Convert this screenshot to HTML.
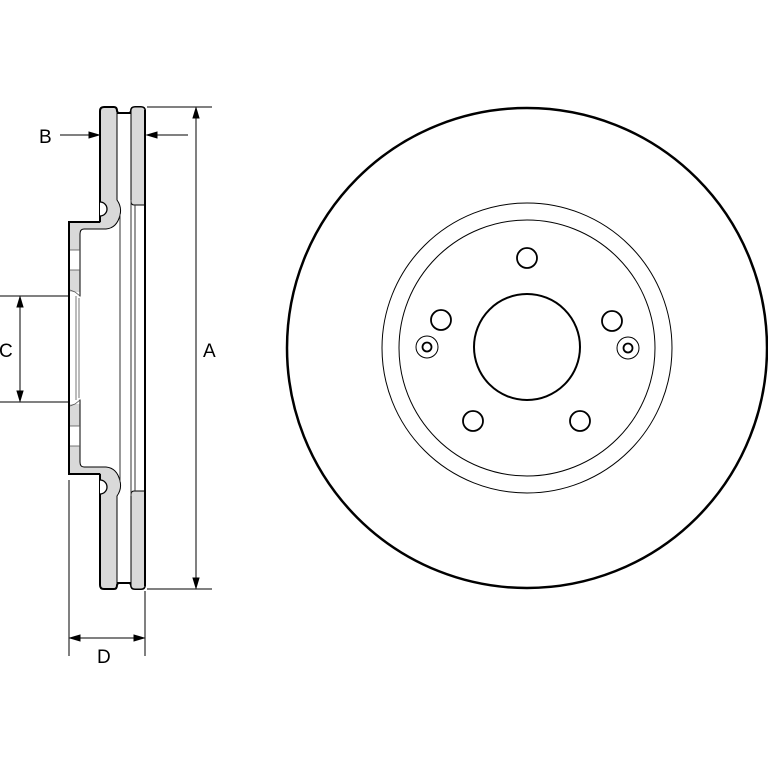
<!DOCTYPE html>
<html><head><style>body{margin:0;background:#fff}svg{display:block}</style></head><body>
<svg width="768" height="768" viewBox="0 0 768 768" xmlns="http://www.w3.org/2000/svg" font-family="Liberation Sans, sans-serif">
<defs>
<g id="half">
  <path d="M100,111 Q100,107 104,107 L114,107 Q117,107 117,111 L117,200 Q122,207 120,215 Q117,228 106,229 L84,229 Q80,229 80,234 L80,296 L69,296 L69,222 L100,222 Z" fill="#d9d9d9" stroke="#000" stroke-width="1"/>
  <path d="M100,222 L100,111 Q100,107 104,107 L114,107 Q117,107 117,111 L118,113 L130,113 L131,111 Q131,107 135,107 L141,107 Q145,107 145,111" fill="none" stroke="#000" stroke-width="2"/>
  <path d="M100,202 A7,7 0 0 1 100,216" fill="#fff" stroke="#000" stroke-width="1.3"/>
  <path d="M69,296 L69,222 L100,222" fill="none" stroke="#000" stroke-width="2"/>
  <path d="M131,111 Q131,107 135,107 L141,107 Q145,107 145,111 L145,205 L134,205 Q131,205 131,201 Z" fill="#d9d9d9" stroke="#000" stroke-width="1"/>
  <rect x="70" y="250" width="9.5" height="20" fill="#fff"/>
  <line x1="70" y1="250" x2="80" y2="250" stroke="#555" stroke-width="0.8"/>
  <line x1="70" y1="270" x2="80" y2="270" stroke="#555" stroke-width="0.8"/>
  <rect x="70" y="292" width="9.5" height="5" fill="#fff"/>
  <path d="M70,290 L75,292 L80,296" fill="none" stroke="#555" stroke-width="0.8"/>
</g>
</defs>
<use href="#half"/>
<use href="#half" transform="translate(0,696) scale(1,-1)"/>
<line x1="69" y1="290" x2="69" y2="406" stroke="#000" stroke-width="2"/>
<line x1="76" y1="296" x2="76" y2="400" stroke="#555" stroke-width="0.8"/>
<line x1="79" y1="298" x2="79" y2="398" stroke="#555" stroke-width="0.8"/>
<line x1="120" y1="214" x2="120" y2="482" stroke="#333" stroke-width="1"/>
<line x1="131" y1="200" x2="131" y2="496" stroke="#333" stroke-width="1"/>
<line x1="135" y1="205" x2="135" y2="491" stroke="#333" stroke-width="1"/>
<line x1="145" y1="110" x2="145" y2="586" stroke="#000" stroke-width="2"/>
<g stroke="#000" stroke-width="1" fill="#000">
<line x1="147" y1="107" x2="212" y2="107"/>
<line x1="147" y1="589" x2="212" y2="589"/>
<line x1="196" y1="112" x2="196" y2="584"/>
<path d="M196,108 L193,118 L199,118 Z"/>
<path d="M196,588 L193,578 L199,578 Z"/>
<line x1="60" y1="135" x2="96" y2="135"/>
<path d="M99,135 L89,132 L89,138 Z"/>
<line x1="152" y1="135" x2="188" y2="135"/>
<path d="M147,135 L157,132 L157,138 Z"/>
<line x1="0" y1="296" x2="68" y2="296"/>
<line x1="0" y1="402" x2="68" y2="402"/>
<line x1="20" y1="300" x2="20" y2="398"/>
<path d="M20,297 L17,307 L23,307 Z"/>
<path d="M20,401 L17,391 L23,391 Z"/>
<line x1="69" y1="480" x2="69" y2="656"/>
<line x1="145" y1="591" x2="145" y2="656"/>
<line x1="73" y1="638" x2="141" y2="638"/>
<path d="M70,638 L80,635 L80,641 Z"/>
<path d="M144,638 L134,635 L134,641 Z"/>
</g>
<g font-size="19" fill="#000">
<text x="39" y="143">B</text>
<text x="-1" y="357">C</text>
<text x="203" y="357">A</text>
<text x="97" y="663">D</text>
</g>
<g fill="none" stroke="#000">
<circle cx="527" cy="348" r="240" stroke-width="2.5"/>
<circle cx="527" cy="348" r="145" stroke-width="1"/>
<circle cx="527" cy="348" r="128" stroke-width="1"/>
<circle cx="527" cy="347" r="53" stroke-width="2"/>
<circle cx="527" cy="258" r="10" stroke-width="1.8"/>
<circle cx="441" cy="320" r="10" stroke-width="1.8"/>
<circle cx="612" cy="321" r="10" stroke-width="1.8"/>
<circle cx="473" cy="421" r="10" stroke-width="1.8"/>
<circle cx="580" cy="421" r="10" stroke-width="1.8"/>
<circle cx="427" cy="347" r="11" stroke-width="1"/>
<circle cx="427" cy="347" r="4.5" stroke-width="1.8"/>
<circle cx="628" cy="348" r="11" stroke-width="1"/>
<circle cx="628" cy="348" r="4.5" stroke-width="1.8"/>
</g>
</svg>
</body></html>
